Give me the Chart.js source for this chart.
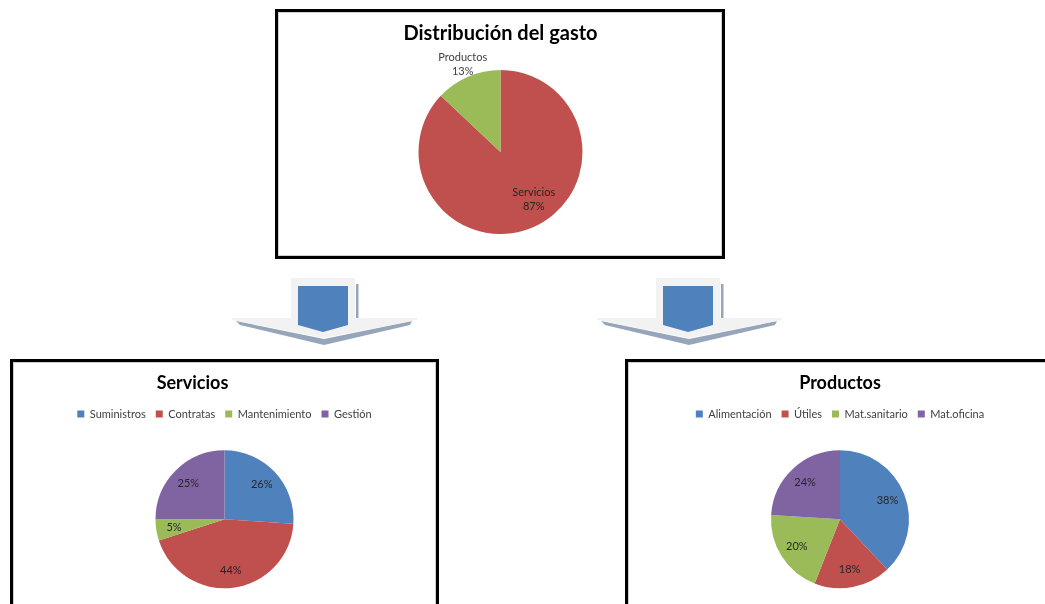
<!DOCTYPE html>
<html>
<head>
<meta charset="utf-8">
<script src="https://cdn.jsdelivr.net/npm/chart.js@4.4.0/dist/chart.umd.min.js"></script>
<style>
  body { margin: 0; width: 1045px; height: 604px; background: #fff; overflow: hidden; position: relative; font-family: Lato, "Open Sans", sans-serif; }
  .box { position: absolute; border: 3px solid #000; background: #fff; box-shadow: inset 0 0 0 1px #cfcfcf; box-sizing: border-box; }
  .wrap { position: absolute; }
  #arrows { position: absolute; left: 0; top: 0; }
</style>
</head>
<body>

<div class="box" style="left:275px; top:9px; width:450px; height:250px;"></div>
<div class="box" style="left:10px; top:359px; width:429px; height:260px;"></div>
<div class="box" style="left:625px; top:359px; width:440px; height:260px;"></div>

<div class="wrap" style="left:279px; top:13px; width:443px; height:242px;"><canvas id="gastoChart"></canvas></div>
<div class="wrap" style="left:13px; top:362px; width:423px; height:247px;"><canvas id="serviciosChart"></canvas></div>
<div class="wrap" style="left:628px; top:362px; width:424px; height:247px;"><canvas id="productosChart"></canvas></div>

<svg id="arrows" width="1045" height="604">
  <g id="arrow1">
    <rect x="291" y="278" width="64" height="41" fill="#f2f2f2"/>
    <rect x="356" y="284" width="2.5" height="34" fill="#97a5bb"/>
    <polygon points="236,321 324,339 412,321 410,325 324,345 240,325" fill="#97a5bb"/>
    <polygon points="232,318 417,318 417,320 324,338 232,320" fill="#f2f2f2"/>
    <polygon points="298,286 348,286 348,325 323,332 298,325" fill="#4f81bd"/>
  </g>
  <use href="#arrow1" x="365" y="0"/>
</svg>

<script>
// data
const gastoLabels = ['Servicios', 'Productos'];
const gastoValues = [87, 13];

const serviciosLabels = ['Suministros', 'Contratas', 'Mantenimiento', 'Gestión'];
const serviciosValues = [26, 44, 5, 25];

const productosLabels = ['Alimentación', 'Útiles', 'Mat.sanitario', 'Mat.oficina'];
const productosValues = [38, 18, 20, 24];

const sliceColors = ['#4F81BD', '#C0504D', '#9BBB59', '#8064A2'];
const fontFamily = 'Lato, "Open Sans", sans-serif';

// percentage labels on the slices
const sliceLabels = {
    id: 'sliceLabels',
    afterDatasetsDraw(chart, args, opts) {
        const ctx = chart.ctx;
        const meta = chart.getDatasetMeta(0);
        const values = chart.data.datasets[0].data;
        const total = values.reduce((a, b) => a + b, 0);
        ctx.save();
        ctx.font = '11px ' + fontFamily;
        ctx.fillStyle = opts.color || '#262626';
        ctx.textAlign = 'center';
        ctx.textBaseline = 'middle';
        meta.data.forEach((arc, i) => {
            const p = arc.getProps(['x', 'y', 'startAngle', 'endAngle', 'outerRadius'], true);
            const outside = opts.outside && opts.outside.includes(i);
            const mid = (p.startAngle + p.endAngle) / 2 + (outside ? 0 : (opts.turn || 0));
            const f = outside ? 1.16 : opts.factor;
            const lx = p.x + Math.cos(mid) * p.outerRadius * f;
            const ly = p.y + Math.sin(mid) * p.outerRadius * f;
            const pct = Math.round(values[i] / total * 100) + '%';
            if (opts.showName) {
                ctx.fillStyle = outside ? '#404040' : '#262626';
                ctx.fillText(chart.data.labels[i], lx, ly - 7);
                ctx.fillText(pct, lx, ly + 7);
            } else {
                ctx.fillText(pct, lx, ly);
            }
        });
        ctx.restore();
    }
};

// move the title sideways (Excel left it off-centre)
const titleShift = {
    id: 'titleShift',
    afterLayout(chart, args, opts) {
        if (opts.dx && chart.titleBlock) {
            chart.titleBlock.left += opts.dx;
            chart.titleBlock.right += opts.dx;
        }
    }
};

function titleOpts(text, size, top, bottom) {
    return {
        display: true,
        text: text,
        color: '#000',
        font: { family: fontFamily, size: size, weight: 'bold' },
        padding: { top: top, bottom: bottom }
    };
}

new Chart(document.getElementById('gastoChart'), {
    type: 'pie',
    data: {
        labels: gastoLabels,
        datasets: [{
            data: gastoValues,
            backgroundColor: [sliceColors[1], sliceColors[2]],
            borderWidth: 0,
            radius: 82
        }]
    },
    options: {
        responsive: true,
        maintainAspectRatio: false,
        animation: false,
        layout: { padding: { bottom: 6 } },
        plugins: {
            title: titleOpts('Distribución del gasto', 20, 9, 9),
            legend: { display: false },
            tooltip: { enabled: false },
            sliceLabels: { factor: 0.71, showName: true, outside: [1], turn: -0.2 }
        }
    },
    plugins: [sliceLabels]
});

function subChart(id, title, labels, values, dx) {
    return new Chart(document.getElementById(id), {
        type: 'pie',
        data: {
            labels: labels,
            datasets: [{
                data: values,
                backgroundColor: sliceColors,
                borderWidth: 0,
                radius: 69
            }]
        },
        options: {
            responsive: true,
            maintainAspectRatio: false,
            animation: false,
            layout: { padding: 0 },
            plugins: {
                title: titleOpts(title, 18, 10, 5),
                legend: {
                    display: true,
                    position: 'top',
                    labels: {
                        boxWidth: 7,
                        boxHeight: 7,
                        padding: 10,
                        color: '#404040',
                        font: { family: fontFamily, size: 11 }
                    }
                },
                tooltip: { enabled: false },
                sliceLabels: { factor: 0.74 },
                titleShift: { dx: dx }
            }
        },
        plugins: [sliceLabels, titleShift]
    });
}

subChart('serviciosChart', 'Servicios', serviciosLabels, serviciosValues, -32);
subChart('productosChart', 'Productos', productosLabels, productosValues, 0);
</script>
</body>
</html>
